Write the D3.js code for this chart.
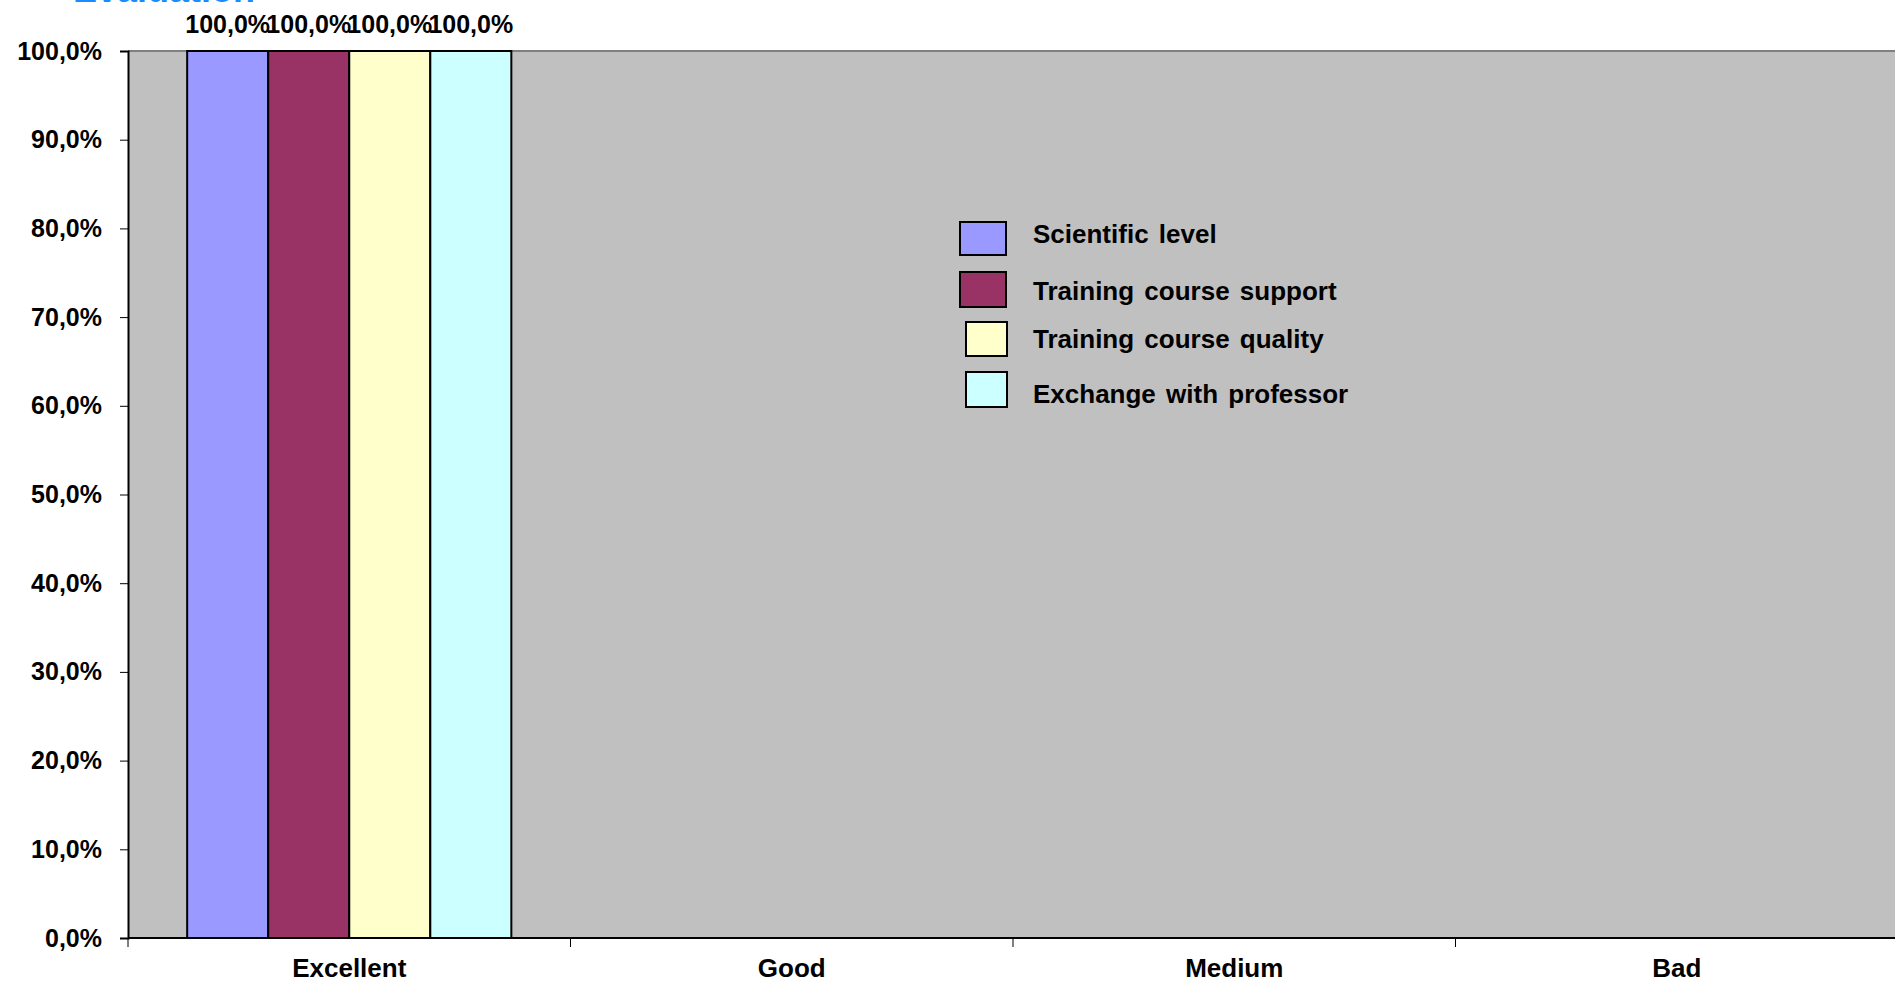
<!DOCTYPE html>
<html>
<head>
<meta charset="utf-8">
<script src="https://cdn.jsdelivr.net/npm/d3@7"></script>
<style>
  body { margin: 0; background: #fff; }
  text { font-family: "Liberation Sans", Arial, sans-serif; font-weight: bold; }
</style>
</head>
<body>
<div id="chart"></div>
<script>
// data
var categories = ["Excellent", "Good", "Medium", "Bad"];
var series = ["Scientific level", "Training course support", "Training course quality", "Exchange with professor"];
var scientific = [100, null, null, null];
var support = [100, null, null, null];
var quality = [100, null, null, null];
var exchange = [100, null, null, null];
var yTicks = [0, 10, 20, 30, 40, 50, 60, 70, 80, 90, 100];
var colors = ["#9999FF", "#993366", "#FFFFCC", "#CCFFFF"];

var W = 1895, H = 982;
var margin = {top: 51, left: 128, bottom: 938};

var svg = d3.select("#chart").append("svg")
    .attr("width", W)
    .attr("height", H);

// title, mostly cut off above the picture
svg.append("text")
    .attr("x", 73)
    .attr("y", 2)
    .attr("font-size", 36)
    .attr("fill", "#1A8CFF")
    .text("Evaluation");

var x = d3.scaleBand()
    .domain(categories)
    .range([margin.left, margin.left + 4 * 442.5])
    .padding(0);

var x1 = d3.scaleBand()
    .domain(series)
    .range([0, x.bandwidth()])
    .paddingInner(0)
    .paddingOuter(0.73);

var y = d3.scaleLinear()
    .domain([0, 100])
    .range([margin.bottom, margin.top]);

// plot area
svg.append("rect")
    .attr("x", margin.left)
    .attr("y", margin.top)
    .attr("width", W - margin.left + 10)
    .attr("height", margin.bottom - margin.top)
    .attr("fill", "#C0C0C0");

svg.append("line")
    .attr("x1", margin.left).attr("x2", W)
    .attr("y1", margin.top).attr("y2", margin.top)
    .attr("stroke", "#808080")
    .attr("stroke-width", 2);

var table = series.map(function(s, i) {
    var vals = [scientific, support, quality, exchange][i];
    return categories.map(function(c, j) { return {series: s, cat: c, value: vals[j], color: colors[i]}; });
});
var flat = d3.merge(table).filter(function(d) { return d.value != null; });

svg.append("g")
    .selectAll("rect")
    .data(flat)
    .enter().append("rect")
        .attr("x", function(d) { return x(d.cat) + x1(d.series); })
        .attr("y", function(d) { return y(d.value); })
        .attr("width", x1.bandwidth())
        .attr("height", function(d) { return y(0) - y(d.value); })
        .attr("fill", function(d) { return d.color; })
        .attr("stroke", "#000")
        .attr("stroke-width", 2);

svg.append("g")
    .selectAll("text")
    .data(flat)
    .enter().append("text")
        .attr("x", function(d) { return x(d.cat) + x1(d.series) + x1.bandwidth() / 2; })
        .attr("y", function(d) { return y(d.value) - 18; })
        .attr("text-anchor", "middle")
        .attr("font-size", 25)
        .text(function(d) { return d.value.toFixed(1).replace(".", ",") + "%"; });

// y axis
var yAxis = svg.append("g")
    .attr("transform", "translate(" + margin.left + ",0)")
    .call(d3.axisLeft(y).tickValues(yTicks).tickSize(8).tickPadding(18)
        .tickFormat(function(d) { return d.toFixed(1).replace(".", ",") + "%"; }));
yAxis.select(".domain").attr("stroke", "#000").attr("stroke-width", 2);
yAxis.selectAll("text").attr("font-size", 25).attr("fill", "#000")
    .attr("font-family", "Liberation Sans, Arial, sans-serif").attr("font-weight", "bold");

// x axis
var xAxis = svg.append("g")
    .attr("transform", "translate(0," + margin.bottom + ")")
    .call(d3.axisBottom(x).tickSize(0).tickPadding(21));
xAxis.select(".domain").remove();
xAxis.append("line")
    .attr("x1", margin.left).attr("x2", W)
    .attr("stroke", "#000").attr("stroke-width", 2);
xAxis.selectAll(".tick text").attr("font-size", 26).attr("fill", "#000")
    .attr("font-family", "Liberation Sans, Arial, sans-serif").attr("font-weight", "bold");
xAxis.selectAll(".sep")
    .data(categories)
    .enter().append("line")
        .attr("x1", function(d) { return x(d); })
        .attr("x2", function(d) { return x(d); })
        .attr("y1", 0).attr("y2", 9)
        .attr("stroke", "#000");

// legend
var legX = [960, 960, 966, 966],
    legY = [222, 272, 322, 372],
    legW = [46, 46, 41, 41],
    legH = [33, 35, 34, 35],
    legBase = [243, 300, 348, 403];
var legend = svg.append("g");
legend.selectAll("rect")
    .data(series)
    .enter().append("rect")
        .attr("x", function(d, i) { return legX[i]; })
        .attr("y", function(d, i) { return legY[i]; })
        .attr("width", function(d, i) { return legW[i]; })
        .attr("height", function(d, i) { return legH[i]; })
        .attr("fill", function(d, i) { return colors[i]; })
        .attr("stroke", "#000")
        .attr("stroke-width", 2);
legend.selectAll("text")
    .data(series)
    .enter().append("text")
        .attr("x", 1033)
        .attr("y", function(d, i) { return legBase[i]; })
        .attr("font-size", 26)
        .attr("word-spacing", 3)
        .text(function(d) { return d; });
</script>
</body>
</html>
